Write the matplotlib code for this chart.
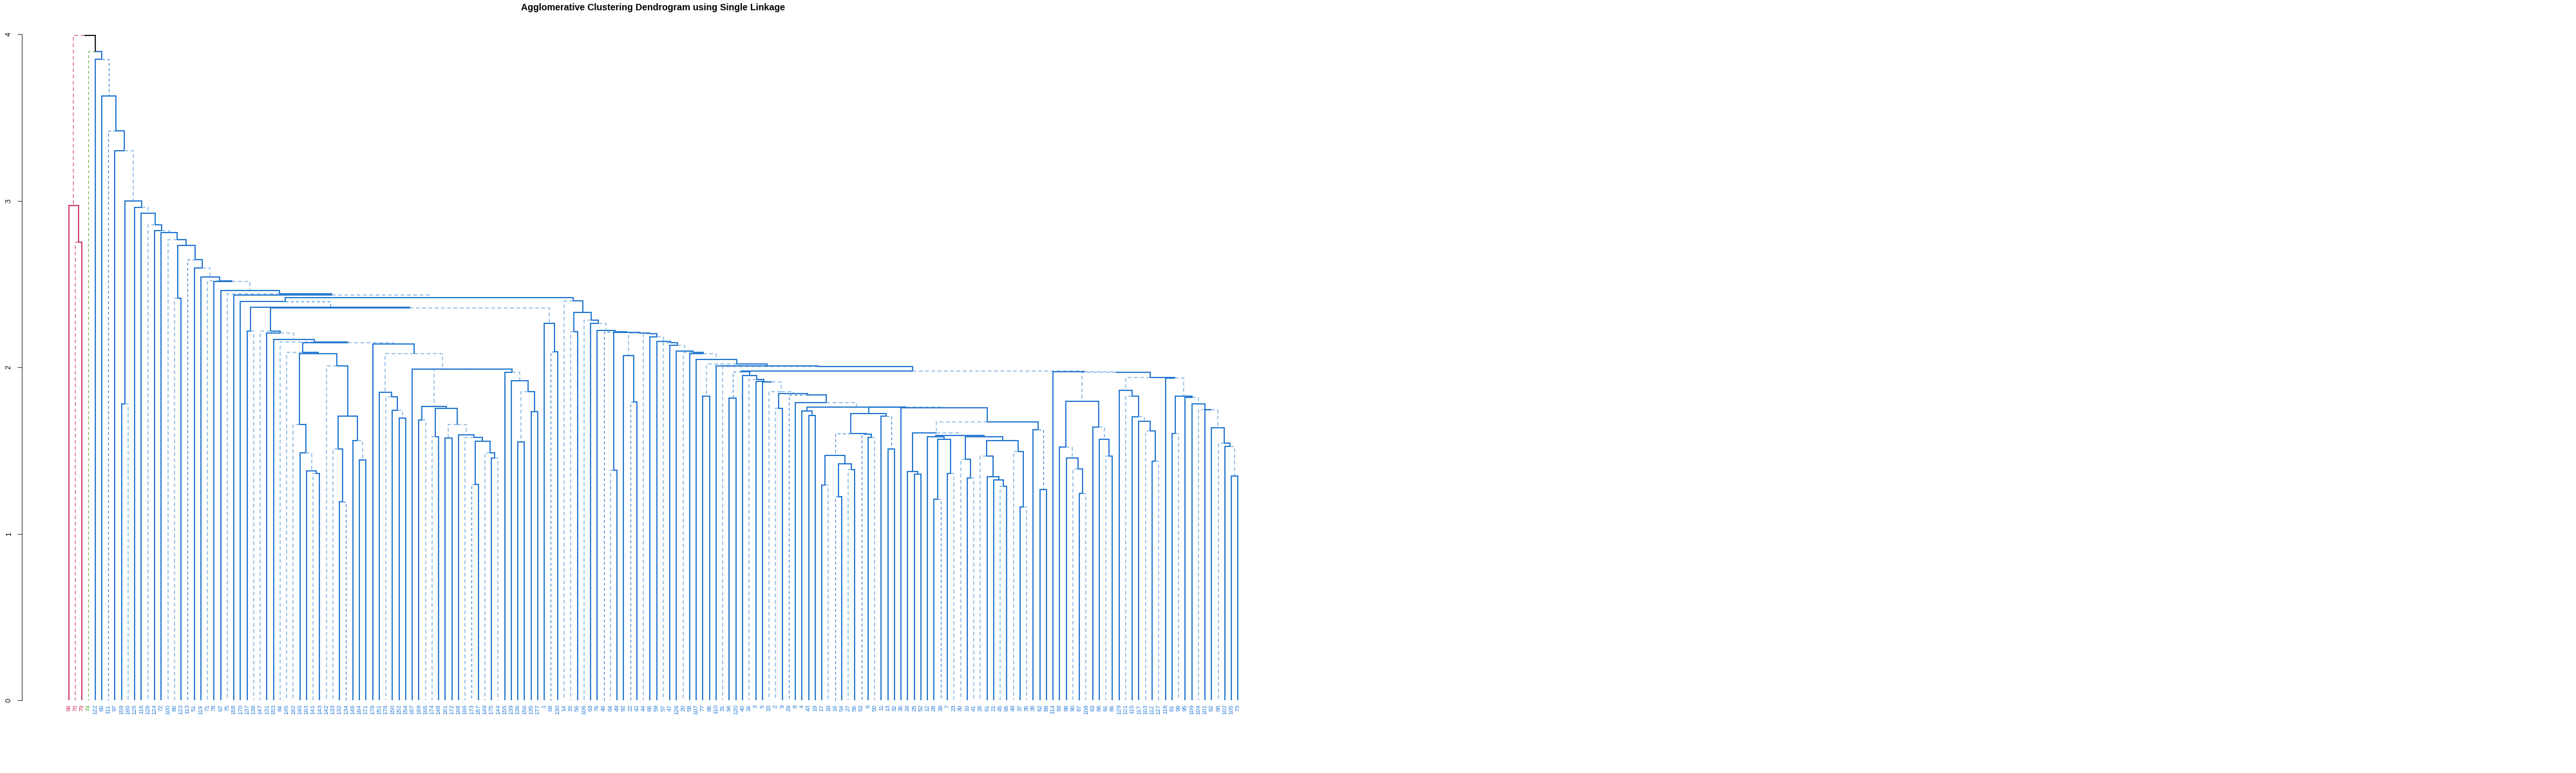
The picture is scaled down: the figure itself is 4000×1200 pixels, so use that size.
import matplotlib
matplotlib.use("Agg")
import matplotlib.pyplot as plt

plt.rcParams['font.family'] = ['Liberation Sans', 'DejaVu Sans']

# leaf labels, left to right
leaf_labels = [
    96, 70, 79, 74, 122, 60, 111, 97, 159, 160, 125, 116, 128, 124, 72, 100,
    80, 123, 113, 51, 119, 71, 78, 67, 75, 158, 170, 137, 138, 147, 131, 153,
    84, 145, 162, 140, 163, 141, 143, 142, 133, 132, 134, 146, 164, 171, 178, 151,
    176, 150, 152, 154, 167, 169, 165, 174, 148, 161, 172, 168, 166, 173, 157, 149,
    175, 144, 155, 139, 136, 156, 135, 177,
    1, 69, 130, 14, 15, 56, 106, 63, 76, 46, 64, 49, 92, 22, 42, 44, 66, 59, 57, 47,
    126, 20, 58, 107, 77, 85, 110, 31, 94, 120, 40, 34, 3, 5, 33, 2, 9, 29, 8, 4,
    43, 19, 17, 18, 16,
    54, 27, 55, 53, 6, 50, 11, 13, 32, 36, 24, 25, 52, 12, 28, 39, 7, 23, 30, 10,
    41, 26, 61, 21, 45, 65, 48, 37, 35, 38, 62, 89,
    114, 93, 98, 90, 87, 108, 83, 88, 91, 86, 129, 121, 115, 117, 103, 112, 127, 118,
    81, 99, 95, 109, 104, 101, 82, 68, 102, 105, 73,
]
# r = red cluster, g = green singleton, b = blue cluster
leaf_groups = "rrrg" + "b" * 174
# branch style above each leaf: s solid, l light dashed, d dashed
leaf_styles = ("slsdssdssl" "sslssllsds" "slsslsssll" "sslllsslsl" "lsdsssssls"
               "ssssllssss" "ldslslssss" "sssdsllsls" "sdlssdslss" "lsslsssssl"
               "ssslssllsd" "sssssldsls" "dslsssssss" "ssdsllslls" "slslslssss"
               "sslslsslss" "lsslslssls" "slsslsss")

# height at which leaf i and leaf i+1 are joined
join_heights = [
    2.972, 2.752, 3.991, 3.897, 3.849, 3.630, 3.420, 3.300, 1.778, 2.999,
    2.961, 2.926, 2.855, 2.820, 2.810, 2.767, 2.413, 2.733, 2.647, 2.594,
    2.540, 2.518, 2.513, 2.460, 2.441, 2.435, 2.393, 2.215, 2.358, 2.218,
    2.204, 2.166, 2.149, 2.090, 1.654, 1.484, 1.378, 1.363, 2.080, 2.009,
    1.510, 1.190, 1.707, 1.559, 1.442, 2.147, 2.138, 1.849, 1.822, 1.740,
    1.696, 2.083, 1.990, 1.684, 1.765, 1.581, 1.752, 1.574, 1.654, 1.593,
    1.578, 1.297, 1.556, 1.484, 1.455, 1.987, 1.970, 1.920, 1.552, 1.852,
    1.732, 2.356, 2.264, 2.094, 2.419, 2.397, 2.212, 2.329, 2.284, 2.264,
    2.219, 2.213, 1.381, 2.209, 2.071, 1.790, 2.206, 2.203, 2.183, 2.155,
    2.146, 2.131, 2.097, 2.088, 2.080, 2.045, 1.826, 2.019, 2.006, 2.005,
    1.816, 1.972, 1.951, 1.926, 1.916, 1.910, 1.852, 1.752, 1.841, 1.832,
    1.787, 1.736, 1.710, 1.761, 1.291, 1.471, 1.224, 1.420, 1.384, 1.600,
    1.599, 1.577, 1.720, 1.707, 1.510, 1.761, 1.758, 1.372, 1.359, 1.607,
    1.583, 1.207, 1.568, 1.362, 1.590, 1.448, 1.333, 1.581, 1.467, 1.342,
    1.323, 1.284, 1.558, 1.494, 1.162, 1.671, 1.624, 1.265, 1.977, 1.971,
    1.520, 1.456, 1.389, 1.242, 1.794, 1.641, 1.567, 1.466, 1.969, 1.862,
    1.826, 1.703, 1.674, 1.616, 1.435, 1.939, 1.935, 1.603, 1.825, 1.819,
    1.781, 1.745, 1.743, 1.635, 1.545, 1.525, 1.347,
]
# merges (named by the join above) whose branch is drawn light dashed / dashed
node_light = [0, 9, 11, 14, 20, 23, 31, 36, 44, 46, 47, 50, 52, 54, 57, 59, 67, 68,
              72, 74, 80, 84, 89, 92, 95, 96, 105, 106, 108, 113, 126, 129, 134,
              149, 151, 154, 156, 158, 159, 162, 168, 170, 173, 176]
node_dashed = [5, 28, 100, 115, 124, 147]

colors = {'r': ('#c8375d', '#e58ba6'), 'g': ('#55a834', '#6fba50'),
          'b': ('#1a72cf', '#9cc4ea')}
label_colors = {'r': '#d03a60', 'g': '#47a626', 'b': '#2e80d8'}


def build(lo, hi):
    if lo == hi:
        return {'x': lo + 1, 'h': 0.0, 'lo': lo, 'hi': hi, 'kids': None,
                'style': leaf_styles[lo]}
    seg = join_heights[lo:hi]
    k = lo + seg.index(max(seg))
    left = build(lo, k)
    right = build(k + 1, hi)
    style = 'l' if k in node_light else ('d' if k in node_dashed else 's')
    return {'x': (left['x'] + right['x']) / 2, 'h': join_heights[k], 'lo': lo,
            'hi': hi, 'kids': (left, right), 'style': style}


fig = plt.figure(figsize=(40, 12), dpi=100)
ax = fig.add_axes([34 / 4000, 113 / 1200, 1961 / 4000, 1034 / 1200])


def draw(node, is_root=False):
    if node['kids'] is None:
        return
    for child in node['kids']:
        grp = leaf_groups[child['lo']]
        solid_c, light_c = colors[grp]
        st = child['style']
        if is_root and child['lo'] == 3:
            c, ls, lw, z = '#111111', '-', 1.3, 4
        elif st == 's':
            c, ls, lw, z = solid_c, '-', 1.3, 3
        elif st == 'l':
            c, ls, lw, z = light_c, (0, (3.2, 2.2)), 1.3, 1
        else:
            c, ls, lw, z = (solid_c if grp == 'b' else light_c), (0, (3.5, 3)), 0.9, 2
            if grp == 'b':
                c = '#3f89d6'
        ax.plot([node['x'], child['x'], child['x']], [node['h'], node['h'], child['h']],
                color=c, ls=ls, lw=lw, zorder=z, solid_capstyle='butt',
                solid_joinstyle='miter', clip_on=False)
        draw(child)


root = build(0, len(leaf_labels) - 1)
draw(root, is_root=True)

for i, lab in enumerate(leaf_labels):
    ax.text(i + 1, -0.025, str(lab), rotation=90, ha='center', va='top',
            fontsize=6.8, color=label_colors[leaf_groups[i]], clip_on=False)

ax.set_xlim(-6.08, 185.08)
ax.set_ylim(0, 4)
for s in ['top', 'right', 'bottom']:
    ax.spines[s].set_visible(False)
ax.spines['left'].set_bounds(0, 4)
ax.spines['left'].set_color('#555555')
ax.spines['left'].set_linewidth(0.9)
ax.set_xticks([])
ax.set_yticks([0, 1, 2, 3, 4])
ax.set_yticklabels(['0', '1', '2', '3', '4'], rotation=90, va='center', fontsize=8)
ax.tick_params(axis='y', length=5, width=0.9, color='#555555', pad=6)

fig.text(1014 / 4000, 1 - 12 / 1200,
         'Agglomerative Clustering Dendrogram using Single Linkage',
         ha='center', va='center', fontsize=10.3, fontweight='bold')

fig.savefig('out.png', dpi=100, facecolor='white')
